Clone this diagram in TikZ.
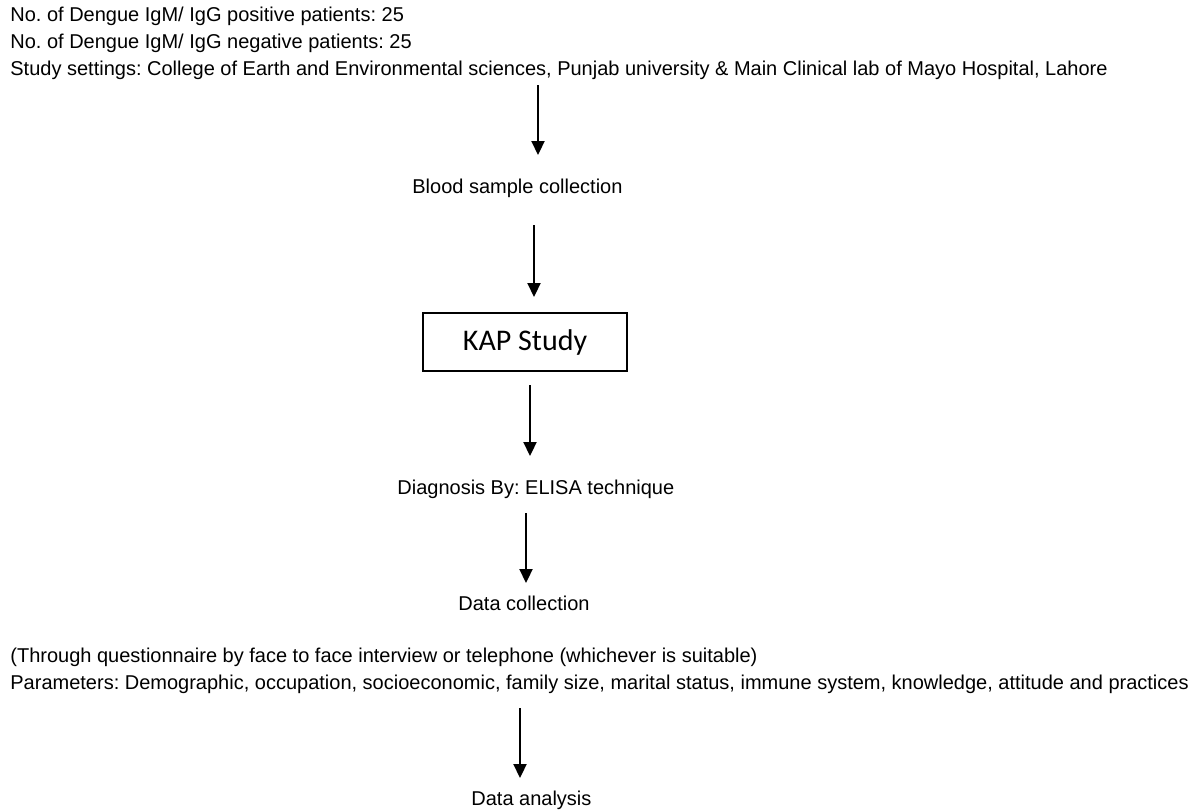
\documentclass[tikz,border=0pt]{standalone}
\usepackage{fontspec}
\setmainfont{Liberation Sans}
\newfontfamily\calfont{Carlito}
\usetikzlibrary{arrows.meta}
\frenchspacing
\begin{document}
\begin{tikzpicture}[x=0.5pt,y=-0.5pt,
  txt/.style={anchor=base west,inner sep=0pt,font=\fontsize{10pt}{12pt}\selectfont},
  arr/.style={line width=1.1pt,-{Triangle[length=7pt,width=6.5pt]}},
  kapbox/.style={draw,line width=0.7pt,minimum width=102pt,minimum height=29pt,inner sep=0pt,font=\calfont\fontsize{15pt}{18pt}\selectfont}]
\useasboundingbox (0,0) rectangle (1192,809);
\node[txt] (l1) at (10,21) {No. of Dengue IgM/ IgG positive patients: 25};
\node[txt] (l2) at (10,48) {No. of Dengue IgM/ IgG negative patients: 25};
\node[txt] (l3) at (10,75) {Study settings: College of Earth and Environmental sciences, Punjab university \& Main Clinical lab of Mayo Hospital, Lahore};
\node[txt] (blood) at (412,193) {Blood sample collection};
\node[kapbox] (kap) at (525,342) {KAP Study};
\node[txt] (diag) at (397,494) {Diagnosis By: ELISA technique};
\node[txt] (dcol) at (458,610) {Data collection};
\node[txt] (q1) at (10,662) {(Through questionnaire by face to face interview or telephone (whichever is suitable)};
\node[txt] (q2) at (10,689) {Parameters: Demographic, occupation, socioeconomic, family size, marital status, immune system, knowledge, attitude and practices};
\node[txt] (dan) at (471,805) {Data analysis};
\coordinate (a1s) at (538,85);  \coordinate (a1e) at (538,155);
\coordinate (a2s) at (534,225); \coordinate (a2e) at (534,297);
\coordinate (a3s) at (530,385); \coordinate (a3e) at (530,456);
\coordinate (a4s) at (526,513); \coordinate (a4e) at (526,583);
\coordinate (a5s) at (520,708); \coordinate (a5e) at (520,778);
\draw[arr] (a1s) -- (a1e);
\draw[arr] (a2s) -- (a2e);
\draw[arr] (a3s) -- (a3e);
\draw[arr] (a4s) -- (a4e);
\draw[arr] (a5s) -- (a5e);
\end{tikzpicture}
\end{document}
